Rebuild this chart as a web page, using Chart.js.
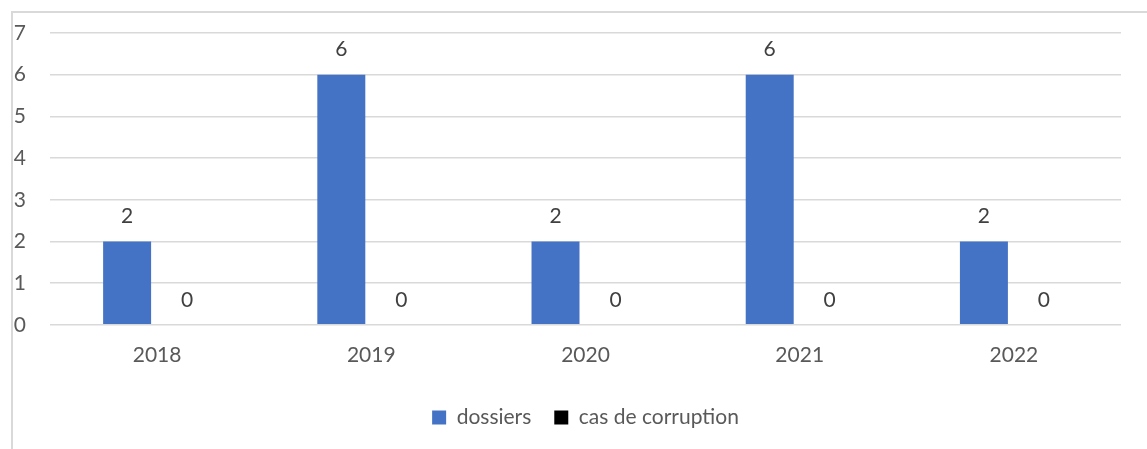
<!DOCTYPE html>
<html>
<head>
<meta charset="utf-8">
<script src="https://cdn.jsdelivr.net/npm/chart.js@4"></script>
<style>
  html, body { margin: 0; padding: 0; background: #fff; }
  #wrap { position: relative; width: 1147px; height: 449px; overflow: hidden; }
  #frame { position: absolute; left: 11px; top: 11px; width: 1200px; height: 500px;
           border-left: 2px solid #d9d9d9; border-top: 2px solid #d9d9d9; }
  #c { position: absolute; left: 0; top: 0; }
</style>
</head>
<body>
<div id="wrap">
  <div id="frame"></div>
  <canvas id="c" width="1147" height="449"></canvas>
</div>
<script>
var annees = ['2018', '2019', '2020', '2021', '2022'];
var dossiers = [2, 6, 2, 6, 2];
var casCorruption = [0, 0, 0, 0, 0];

var police = 'Lato';
var taille = 21;

// étiquettes de valeur au-dessus des barres
var etiquettes = {
    id: 'etiquettes',
    afterDatasetsDraw: function (chart) {
        var ctx = chart.ctx;
        ctx.save();
        ctx.font = taille + 'px ' + police;
        ctx.fillStyle = '#404040';
        ctx.textAlign = 'center';
        ctx.textBaseline = 'middle';
        chart.data.datasets.forEach(function (ds, i) {
            var meta = chart.getDatasetMeta(i);
            meta.data.forEach(function (bar, j) {
                ctx.fillText(ds.data[j], bar.x, bar.y - 25);
            });
        });
        ctx.restore();
    }
};

// la légende est centrée sur la zone de tracé, pas sur le canvas
var decaleLegende = {
    id: 'decaleLegende',
    afterLayout: function (chart) {
        var centre = (chart.chartArea.left + chart.chartArea.right) / 2;
        var d = centre - (chart.legend.left + chart.legend.right) / 2;
        chart.legend.left += d;
        chart.legend.right += d;
    }
};

new Chart(document.getElementById('c'), {
    type: 'bar',
    data: {
        labels: annees,
        datasets: [
            { label: 'dossiers', data: dossiers, backgroundColor: '#4472C4' },
            { label: 'cas de corruption', data: casCorruption, backgroundColor: '#000000' }
        ]
    },
    options: {
        responsive: false,
        animation: false,
        layout: { padding: { left: 10, right: 26, top: 33, bottom: 11 } },
        datasets: { bar: { categoryPercentage: 0.56, barPercentage: 0.8 } },
        scales: {
            x: {
                grid: { display: false },
                border: { display: false },
                ticks: { color: '#595959', font: { family: police, size: taille }, padding: 10 },
                afterFit: function (scale) { scale.height += 6; }
            },
            y: {
                min: 0,
                max: 7,
                grid: { color: '#d9d9d9', lineWidth: 1.5, drawTicks: false },
                border: { display: false },
                ticks: { stepSize: 1, color: '#595959', font: { family: police, size: taille }, padding: 24 },
                afterFit: function (scale) {
                    scale.width = 40;
                    scale.paddingTop = 0;
                    scale.paddingBottom = 0;
                }
            }
        },
        plugins: {
            tooltip: { enabled: false },
            legend: {
                position: 'bottom',
                labels: {
                    color: '#595959',
                    font: { family: police, size: taille },
                    boxWidth: 14,
                    boxHeight: 14,
                    padding: 23
                }
            }
        }
    },
    plugins: [etiquettes, decaleLegende]
});
</script>
</body>
</html>
